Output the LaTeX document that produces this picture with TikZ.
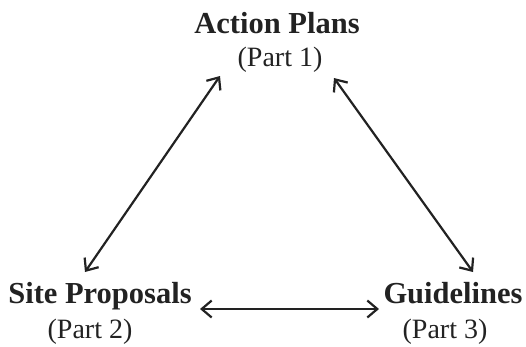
\documentclass[tikz,border=0pt]{standalone}
\usepackage{fontspec}
\setmainfont{Liberation Serif}
\usetikzlibrary{arrows.meta}
\definecolor{ink}{HTML}{222222}
\tikzset{
  title/.style={anchor=base, inner sep=0pt, text=ink, font=\fontsize{30.5}{34}\selectfont\bfseries},
  part/.style={anchor=base, inner sep=0pt, text=ink, font=\fontsize{28}{32}\selectfont},
  link/.style={draw=ink, line width=2.2pt, {Straight Barb[length=10pt,width=17pt]}-{Straight Barb[length=10pt,width=17pt]}}
}
\begin{document}
\begin{tikzpicture}[x=1pt, y=-1pt]
\useasboundingbox (0,0) rectangle (526,346);


\node[title] (ap) at (277,33) {Action Plans};
\node[part] (p1) at (280,66) {(Part 1)};


\node[title] (sp) at (100,303) {Site Proposals};
\node[part] (p2) at (90,338) {(Part 2)};


\node[title] (gl) at (453,303) {Guidelines};
\node[part] (p3) at (445,338) {(Part 3)};


\coordinate (a1) at (220,76);
\coordinate (a2) at (85,272);
\coordinate (b1) at (334,78);
\coordinate (b2) at (473,272);
\coordinate (c1) at (200,309);
\coordinate (c2) at (379,309);


\draw[link] (a1) -- (a2);
\draw[link] (b1) -- (b2);
\draw[link] (c1) -- (c2);

\end{tikzpicture}
\end{document}
